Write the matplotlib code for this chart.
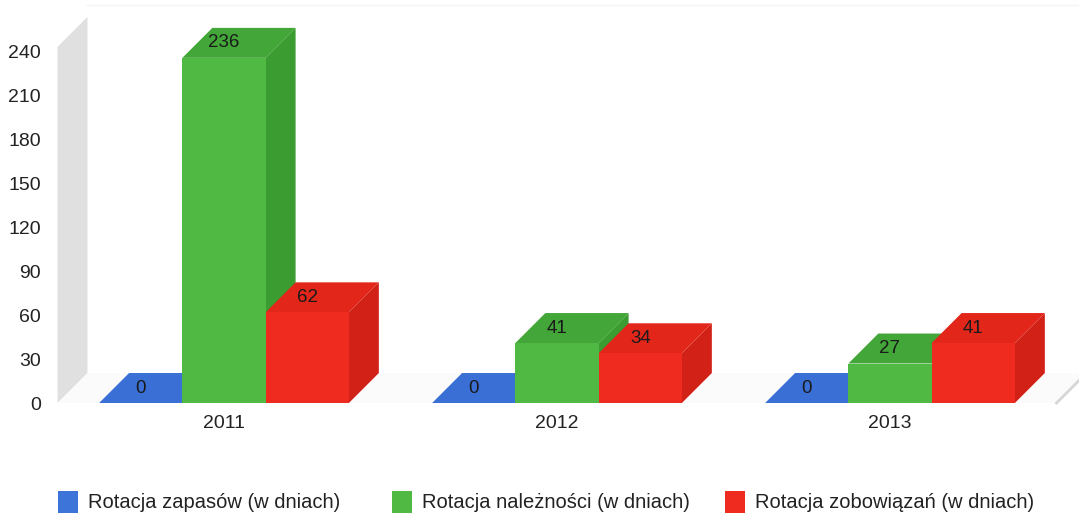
import matplotlib
matplotlib.use('agg')
from matplotlib import pyplot as plt
from matplotlib.patches import Polygon, Rectangle

plt.rcParams['font.family'] = ['Liberation Sans', 'DejaVu Sans']

years = ['2011', '2012', '2013']
zapasy = [0, 0, 0]
naleznosci = [236, 41, 27]
zobowiazania = [62, 34, 41]
series_names = ['Rotacja zapasów (w dniach)',
                'Rotacja należności (w dniach)',
                'Rotacja zobowiązań (w dniach)']
y_ticks = [0, 30, 60, 90, 120, 150, 180, 210, 240]

# front / top / side shades for each series
shades = [
    ('#3d74d9', '#3a6fd6', '#2f5fbf'),
    ('#50b944', '#42a638', '#3b9c31'),
    ('#ef2b1f', '#e3261a', '#d22117'),
]

W = 0.25      # bar width in category units
DX = 0.09     # depth offset, x
DY = 20.5     # depth offset, y (data units)
Y_TOP = 243.5

fig = plt.figure(figsize=(10.79, 5.15), dpi=100)
ax = fig.add_axes([57.5 / 1079, 112 / 515, 999 / 1079, 393 / 515])
ax.set_xlim(-0.5, 2.5)
ax.set_ylim(0, 393 / 1.4625)
for s in ax.spines.values():
    s.set_visible(False)

# left wall and floor
ax.add_patch(Polygon([(-0.5, 0), (-0.5 + DX, DY), (-0.5 + DX, Y_TOP + DY), (-0.5, Y_TOP)],
                     closed=True, facecolor='#e0e0e0', edgecolor='none', clip_on=False))
ax.add_patch(Polygon([(-0.5, 0), (2.5, 0), (2.5 + DX, DY), (-0.5 + DX, DY)],
                     closed=True, facecolor='#fbfbfb', edgecolor='none', clip_on=False))
ax.plot([2.5, 2.5 + DX], [0, DY], color='#d6d6d6', lw=2, clip_on=False)
ax.plot([-0.5 + DX, 2.5 + DX], [Y_TOP + DY + 8, Y_TOP + DY + 8], color='#f4f4f4', lw=1, clip_on=False)


def bar3d(x0, h, cols):
    front, top, side = cols
    x1 = x0 + W
    ax.add_patch(Polygon([(x1, 0), (x1 + DX, DY), (x1 + DX, h + DY), (x1, h)],
                         closed=True, facecolor=side, edgecolor='none', clip_on=False))
    ax.add_patch(Polygon([(x0, h), (x1, h), (x1 + DX, h + DY), (x0 + DX, h + DY)],
                         closed=True, facecolor=top, edgecolor='none', clip_on=False))
    if h > 0:
        ax.add_patch(Rectangle((x0, 0), W, h, facecolor=front, edgecolor='none', clip_on=False))
    ax.text(x0 + W / 2, h + DY / 2, str(h), ha='center', va='center',
            fontsize=13.5, color='#1a1a1a')


for i in range(len(years)):
    for k, vals in enumerate([zapasy, naleznosci, zobowiazania]):
        bar3d(i + (k - 1) * W - W / 2, vals[i], shades[k])

ax.set_yticks(y_ticks)
ax.set_yticklabels([str(t) for t in y_ticks], fontsize=14, color='#222222')
ax.set_xticks(range(len(years)))
ax.set_xticklabels(years, fontsize=14, color='#222222')
ax.tick_params(axis='y', length=0, pad=12)
ax.tick_params(axis='x', length=0, pad=9)

# legend
leg_x = [58, 392, 725]
for k, name in enumerate(series_names):
    fig.patches.append(Rectangle((leg_x[k] / 1079, 2 / 515), 20 / 1079, 22 / 515,
                                 transform=fig.transFigure, facecolor=shades[k][0],
                                 edgecolor='none'))
    fig.text((leg_x[k] + 30) / 1079, 12 / 515, name, fontsize=14.5,
             color='#222222', ha='left', va='center')

fig.savefig('out.png', dpi=100)
